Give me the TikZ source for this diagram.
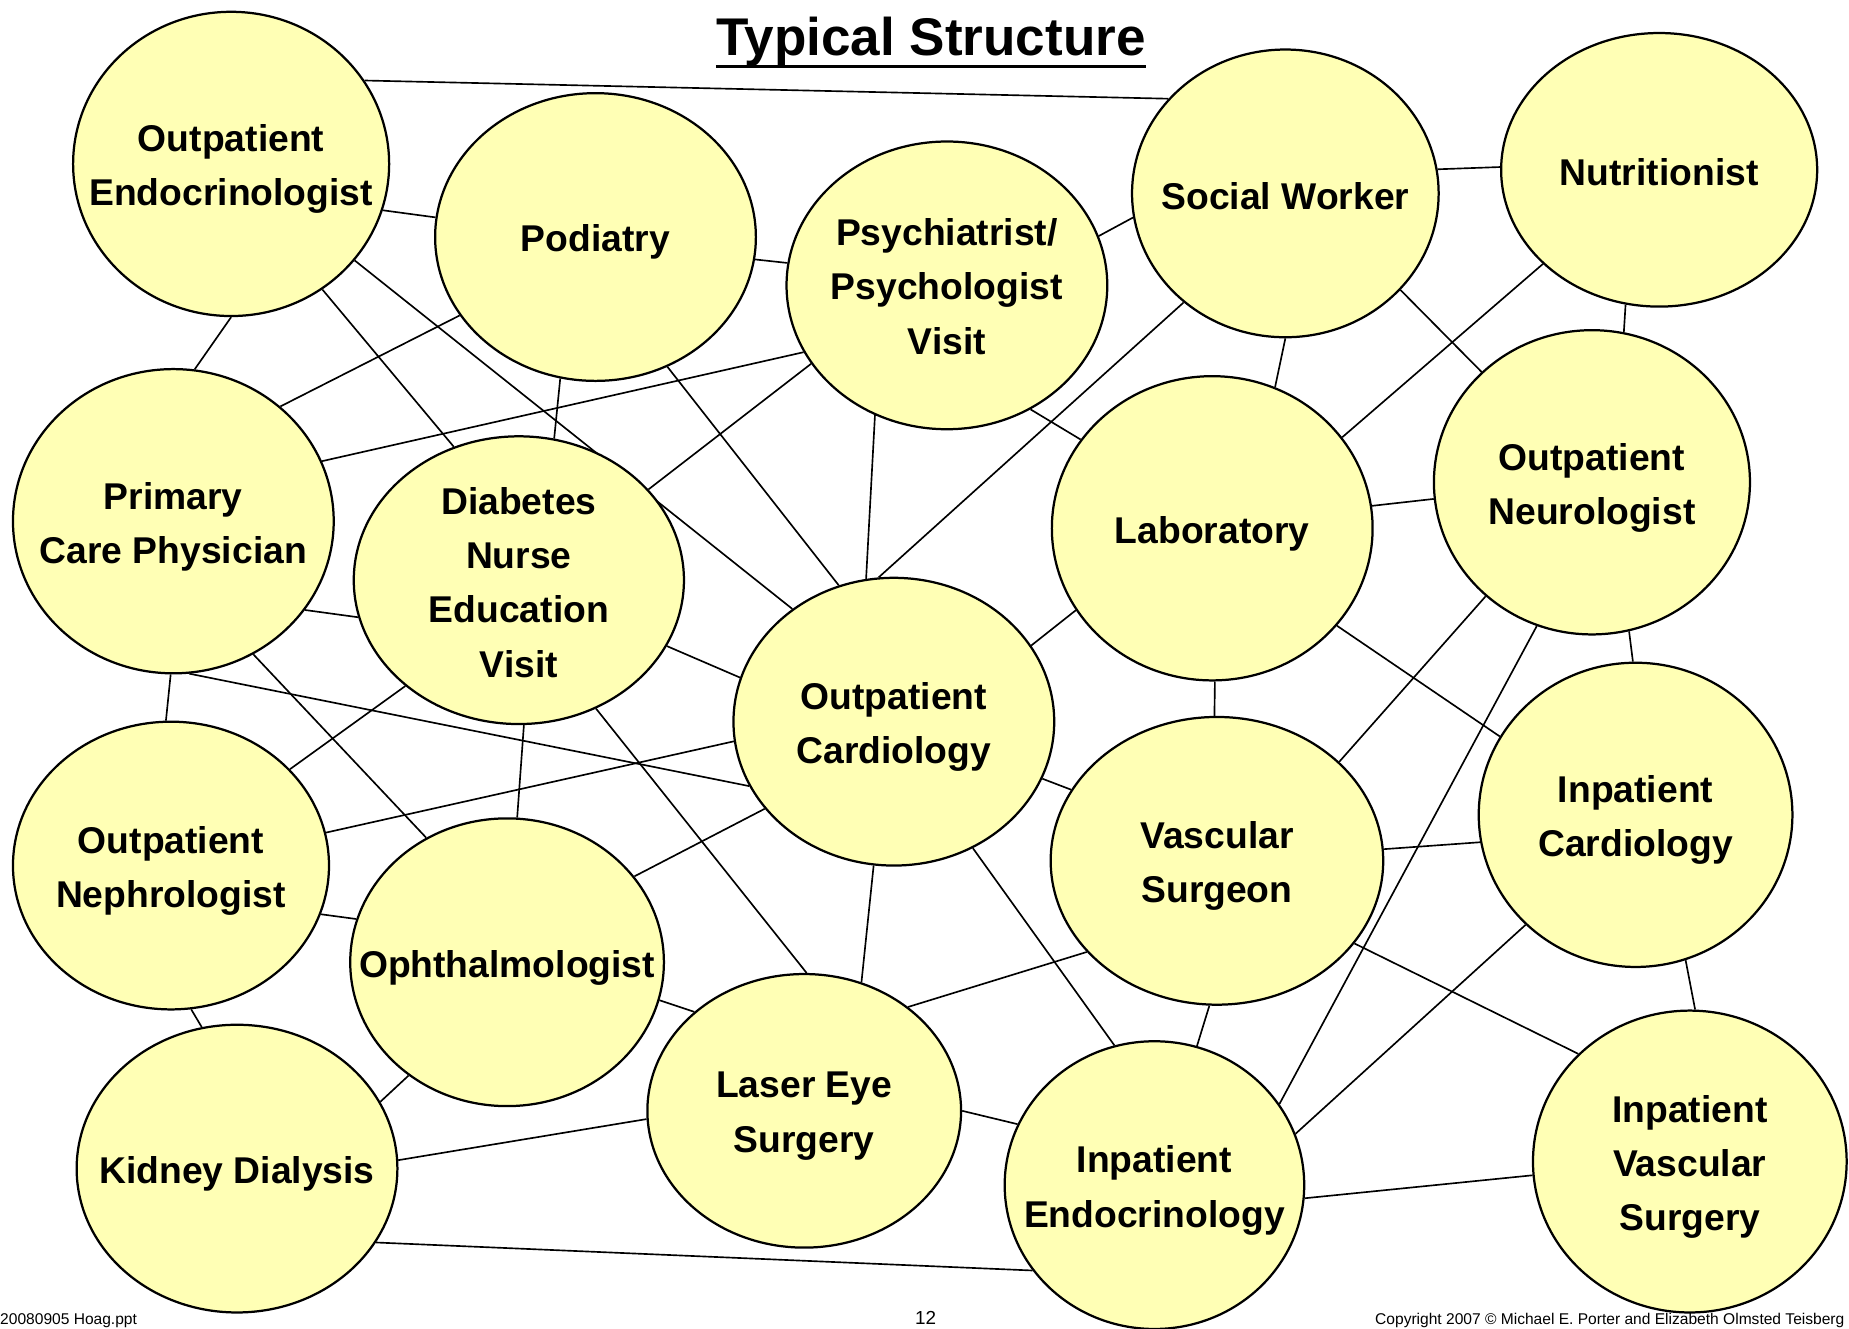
\documentclass[tikz,border=0pt]{standalone}
\usepackage{fontspec}
\setmainfont{Liberation Sans}
\usetikzlibrary{shapes.geometric}
\pgfdeclarelayer{background}
\pgfsetlayers{background,main}
\definecolor{bubblefill}{RGB}{255,255,181}

\begin{document}
\begin{tikzpicture}[x=1pt,y=-1pt,
  bubble/.style={ellipse, draw=black, line width=1.9pt, fill=bubblefill, inner sep=0pt},
  lbl/.style={font=\fontsize{31.6}{46}\selectfont\bfseries, align=center, inner sep=0pt, yshift=-4.5pt},
  lblhi/.style={lbl, yshift=2.5pt},
  link/.style={line width=1.4pt, draw=black},
  foot/.style={font=\fontsize{13.2}{16}\selectfont, inner sep=0pt},
]
\useasboundingbox (0,0) rectangle (1568,1127);

% title
\node[font=\fontsize{45}{54}\selectfont\bfseries, inner sep=0pt, anchor=base] (title) at (789.5,47) {Typical Structure};
\draw[line width=2.6pt] ([yshift=-9.5pt]title.base west) -- ([yshift=-9.5pt]title.base east);

% care providers and services
\node[bubble, minimum width=268pt, minimum height=258pt, label={[lbl]center:Outpatient\\Endocrinologist}] (oe) at (196,139) {};
\node[bubble, minimum width=272pt, minimum height=244pt, label={[lbl]center:Podiatry}] (pod) at (505,201) {};
\node[bubble, minimum width=272pt, minimum height=244pt, label={[lblhi, yshift=1pt]center:Psychiatrist/\\Psychologist\\Visit}] (psy) at (803,242) {};
\node[bubble, minimum width=260pt, minimum height=244pt, label={[lblhi]center:Social Worker}] (sw) at (1090,164) {};
\node[bubble, minimum width=268pt, minimum height=232pt, label={[lblhi]center:Nutritionist}] (nut) at (1407,144) {};
\node[bubble, minimum width=272pt, minimum height=258pt, label={[lbl]center:Primary\\Care Physician}] (pcp) at (147,442) {};
\node[bubble, minimum width=280pt, minimum height=244pt, label={[lblhi]center:Diabetes\\Nurse\\Education\\Visit}] (dn) at (440,492) {};
\node[bubble, minimum width=272pt, minimum height=258pt, label={[lbl]center:Laboratory}] (lab) at (1028,448) {};
\node[bubble, minimum width=268pt, minimum height=258pt, label={[lbl]center:Outpatient\\Neurologist}] (neu) at (1350,409) {};
\node[bubble, minimum width=272pt, minimum height=244pt, label={[lbl]center:Outpatient\\Cardiology}] (oc) at (758,612) {};
\node[bubble, minimum width=268pt, minimum height=244pt, label={[lbl]center:Outpatient\\Nephrologist}] (nep) at (145,734) {};
\node[bubble, minimum width=266pt, minimum height=244pt, label={[lbl]center:Ophthalmologist}] (oph) at (430,816) {};
\node[bubble, minimum width=282pt, minimum height=244pt, label={[lbl]center:Vascular\\Surgeon}] (vs) at (1032,730) {};
\node[bubble, minimum width=266pt, minimum height=258pt, label={[lbl]center:Inpatient\\Cardiology}] (ic) at (1387,691) {};
\node[bubble, minimum width=272pt, minimum height=244pt, label={[lbl]center:Kidney Dialysis}] (kd) at (201,991) {};
\node[bubble, minimum width=266pt, minimum height=232pt, label={[lbl]center:Laser Eye\\Surgery}] (les) at (682,942) {};
\node[bubble, minimum width=254pt, minimum height=244pt, label={[lbl]center:Inpatient\\Endocrinology}] (ie) at (979,1005) {};
\node[bubble, minimum width=266pt, minimum height=256pt, label={[lbl]center:Inpatient\\Vascular\\Surgery}] (ivs) at (1433,985) {};

% links between them
\begin{pgfonlayer}{background}
\draw[link] (oe.32.4) -- (sw.141.7);
\draw[link] (oe.-17) -- (pod.173.7);
\draw[link] (oe.-90) -- (pcp.82.1);
\draw[link] (oe.-54.4) -- (dn.116.2);
\draw[link] (oe.-38) -- (oc.132.8);
\draw[link] (pod.-8) -- (psy.172.8);
\draw[link] (pod.210.7) -- (pcp.47.8);
\draw[link] (pod.-104.7) -- (dn.76.9);
\draw[link] (pod.-61.6) -- (oc.112.7);
\draw[link] (psy.18) -- (sw.189.8);
\draw[link] (psy.205) -- (pcp.22.4);
\draw[link] (psy.210.3) -- (dn.35);
\draw[link] (psy.-119) -- (oc.101.6);
\draw[link] (psy.-56.3) -- (lab.146.4);
\draw[link] (sw.9.6) -- (nut.179.1);
\draw[link] (sw.-90.9) -- (lab.66.7);
\draw[link] (sw.-133) -- (oc.96.1);
\draw[link] (sw.-40.9) -- (neu.135.9);
\draw[link] (nut.-104.7) -- (neu.78.9);
\draw[link] (nut.-141.8) -- (lab.35.3);
\draw[link] (pcp.-34.4) -- (dn.193.7);
\draw[link] (pcp.-91.8) -- (nep.92.3);
\draw[link] (pcp.-59.7) -- (oph.123.4);
\draw[link] (pcp.-84.2) -- (oc.204.8);
\draw[link] (dn.-24.9) -- (oc.164.1);
\draw[link] (dn.-137.5) -- (nep.39);
\draw[link] (dn.-88.1) -- (oph.86.7);
\draw[link] (dn.-59) -- (les.89.5);
\draw[link] (lab.8.8) -- (neu.186);
\draw[link] (lab.211.6) -- (oc.29.1);
\draw[link] (lab.-89.1) -- (vs.91.9);
\draw[link] (lab.-38) -- (ic.150.6);
\draw[link] (neu.-76.9) -- (ic.91.3);
\draw[link] (neu.-133.8) -- (vs.39.5);
\draw[link] (neu.-111.2) -- (ie.33);
\draw[link] (oc.187.5) -- (nep.12.2);
\draw[link] (oc.214.4) -- (oph.34.4);
\draw[link] (oc.-21.2) -- (vs.154.9);
\draw[link] (oc.-98.3) -- (les.66.7);
\draw[link] (oc.-58.2) -- (ie.106.2);
\draw[link] (nep.-18.4) -- (oph.164.9);
\draw[link] (nep.-82.1) -- (kd.104.6);
\draw[link] (oph.-131.5) -- (kd.25.6);
\draw[link] (oph.-14.9) -- (les.138.3);
\draw[link] (vs.215.3) -- (les.45.3);
\draw[link] (vs.-93.3) -- (ie.73.5);
\draw[link] (vs.4.1) -- (ic.190.7);
\draw[link] (vs.-31.4) -- (ivs.136.5);
\draw[link] (ic.-135.3) -- (ie.20.9);
\draw[link] (ic.-71) -- (ivs.88.6);
\draw[link] (kd.3.3) -- (les.183.4);
\draw[link] (kd.-28.3) -- (ie.215.9);
\draw[link] (les.0.9) -- (ie.156.3);
\draw[link] (ie.-5) -- (ivs.185.6);
\end{pgfonlayer}

% footer
\node[foot, anchor=base west] (file) at (0,1123.5) {20080905 Hoag.ppt};
\node[font=\fontsize{16}{19}\selectfont, inner sep=0pt, anchor=base] (page) at (785,1123.5) {12};
\node[foot, anchor=base west] (copy) at (1166,1123.5) {Copyright 2007 © Michael E. Porter and Elizabeth Olmsted Teisberg};
\end{tikzpicture}
\end{document}
